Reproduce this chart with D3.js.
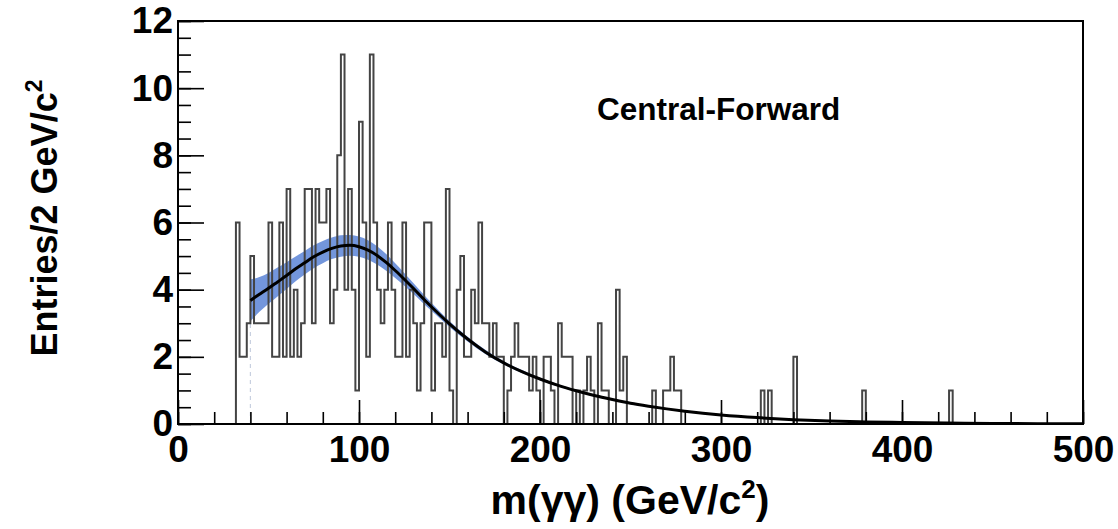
<!DOCTYPE html>
<html><head><meta charset="utf-8">
<script src="https://cdn.jsdelivr.net/npm/d3@7"></script>
<style>
body{margin:0;background:#fff}
svg{display:block}
text{font-family:"Liberation Sans",Arial,Helvetica,sans-serif;font-weight:bold;fill:#000}
</style>
</head><body><svg id="c" width="1118" height="529"></svg>
<script>
// ---------------- data ----------------
const binWidth = 2; // GeV/c^2 per bin, bins from 0 to 500
const counts = [
  0,0,0,0,0,0,0,0,0,0,      // 0-18
  0,0,0,0,0,0,6,2,2,3,      // 20-38
  5,3,3,3,3,6,2,2,6,2,      // 40-58
  7,2,4,2,3,7,7,3,7,6,      // 60-78
  6,7,3,4,8,11,4,7,4,1,     // 80-98
  9,6,2,11,6,4,3,4,6,4,     // 100-118
  2,2,6,2,4,3,1,3,6,6,      // 120-138
  1,3,3,2,7,1,0,4,5,2,      // 140-158
  2,4,3,6,3,3,2,3,2,2,      // 160-178
  0,1,2,3,2,2,2,1,2,1,      // 180-198
  0,2,2,1,0,3,2,2,2,0,      // 200-218
  1,0,1,2,1,0,3,1,1,0,      // 220-238
  0,4,1,2,0,0,0,0,0,0,      // 240-258
  0,1,0,0,1,1,2,1,1,0,      // 260-278
  0,0,0,0,0,0,0,0,0,0,      // 280-298
  0,0,0,0,0,0,0,0,0,0,      // 300-318
  0,1,0,1,0,0,0,0,0,0,      // 320-338
  2,0,0,0,0,0,0,0,0,0,      // 340-358
  0,0,0,0,0,0,0,0,0,1,      // 360-378
  0,0,0,0,0,0,0,0,0,0,      // 380-398
  0,0,0,0,0,0,0,0,0,0,      // 400-418
  0,0,0,1,0,0,0,0,0,0,      // 420-438
  0,0,0,0,0,0,0,0,0,0,      // 440-458
  0,0,0,0,0,0,0,0,0,0,      // 460-478
  0,0,0,0,0,0,0,0,0,0       // 480-498
];
const fitMass     = [40,45,50,55,60,65,70,75,80,85,90,95,100,105,110,115,120,125,130,135,140,145,150,160,170,180,190,200,210,220,230,240,250,260,270,280,290,300,320,340,360,380,400,425,450,475,500];
const fitValue    = [3.68,3.86,4.04,4.23,4.42,4.62,4.8,4.98,5.12,5.23,5.3,5.32,5.28,5.18,5.02,4.81,4.57,4.31,4.04,3.76,3.49,3.23,2.98,2.53,2.14,1.82,1.56,1.34,1.15,0.99,0.85,0.73,0.62,0.53,0.45,0.38,0.32,0.27,0.19,0.13,0.09,0.063,0.044,0.028,0.018,0.011,0.007];
const fitBandHalf = [0.62,0.52,0.46,0.43,0.4,0.37,0.35,0.34,0.33,0.32,0.32,0.31,0.3,0.29,0.27,0.25,0.22,0.19,0.16,0.14,0.12,0.1,0.09,0.07,0.06,0.05,0.045,0.04,0.035,0.03,0.03,0.03,0.03,0.02,0.02,0.02,0.02,0.02,0.015,0.01,0.01,0.01,0.01,0.005,0.005,0.005,0.005];
const fitStart = 40;
const xMajorTicks = [0,100,200,300,400,500];
const yMajorTicks = [0,2,4,6,8,10,12];
const xLabelMain = "m(γγ) (GeV/c";
const yLabelMain = "Entries/2 GeV/c";
const regionLabel = "Central-Forward";

// ---------------- layout ----------------
const svg = d3.select("#c");
const L = 178, R = 1083, T = 21, B = 424;
const x = d3.scaleLinear().domain([0,500]).range([L,R]);
const y = d3.scaleLinear().domain([0,12]).range([B,T]);

svg.append("rect").attr("width",1118).attr("height",529).attr("fill","#fff");
svg.append("defs").append("clipPath").attr("id","clip")
  .append("rect").attr("x",L).attr("y",T).attr("width",R-L).attr("height",B-T);

const plot = svg.append("g").attr("clip-path","url(#clip)");

// fit band
const fitPts = fitMass.map((m,i)=>({m, v:fitValue[i], h:fitBandHalf[i]}));
plot.append("path").datum(fitPts)
  .attr("d", d3.area().x(d=>x(d.m)).y0(d=>y(d.v-d.h)).y1(d=>y(d.v+d.h)).curve(d3.curveMonotoneX))
  .attr("fill","#5b84d6").attr("fill-opacity",0.85);

// dashed fit-start marker
plot.append("line").attr("x1",x(fitStart)).attr("x2",x(fitStart))
  .attr("y1",y(0)).attr("y2",y(3))
  .attr("stroke","#c8d0e0").attr("stroke-width",1.2).attr("stroke-dasharray","4,4");

// histogram
const histPts = counts.map((c,i)=>[i*binWidth, c]);
histPts.push([counts.length*binWidth, counts[counts.length-1]]);
plot.append("path").datum(histPts)
  .attr("d", d3.line().x(d=>x(d[0])).y(d=>y(d[1])).curve(d3.curveStepAfter))
  .attr("fill","none").attr("stroke","#444").attr("stroke-width",2);

// fit curve
plot.append("path").datum(fitPts)
  .attr("d", d3.line().x(d=>x(d.m)).y(d=>y(d.v)).curve(d3.curveMonotoneX))
  .attr("fill","none").attr("stroke","#000").attr("stroke-width",3);

// ---------------- axes ----------------
const fontSize = 37;
// y minor
svg.append("g").attr("transform",`translate(${L},0)`)
  .call(d3.axisLeft(y).tickValues(d3.range(0,12.01,0.5)).tickSizeInner(-13).tickSizeOuter(0).tickFormat(""))
  .call(g=>g.select(".domain").remove())
  .call(g=>g.selectAll("line").attr("stroke","#000").attr("stroke-width",1.6));
// y major
svg.append("g").attr("transform",`translate(${L},0)`)
  .call(d3.axisLeft(y).tickValues(yMajorTicks).tickSizeInner(-26).tickSizeOuter(0).tickPadding(5).tickFormat(d3.format("d")))
  .call(g=>g.select(".domain").remove())
  .call(g=>g.selectAll("line").attr("stroke","#000").attr("stroke-width",1.6))
  .call(g=>g.selectAll("text").style("font-size",fontSize+"px").style("font-weight","bold")
        .attr("font-family","Liberation Sans, Arial, sans-serif"));
// x minor
svg.append("g").attr("transform",`translate(0,${B})`)
  .call(d3.axisBottom(x).tickValues(d3.range(0,501,20)).tickSizeInner(-12).tickSizeOuter(0).tickFormat(""))
  .call(g=>g.select(".domain").remove())
  .call(g=>g.selectAll("line").attr("stroke","#000").attr("stroke-width",1.6));
// x major
svg.append("g").attr("transform",`translate(0,${B})`)
  .call(d3.axisBottom(x).tickValues(xMajorTicks).tickSizeInner(-24).tickSizeOuter(0).tickPadding(12).tickFormat(d3.format("d")))
  .call(g=>g.select(".domain").remove())
  .call(g=>g.selectAll("line").attr("stroke","#000").attr("stroke-width",1.6))
  .call(g=>g.selectAll("text").style("font-size",fontSize+"px").style("font-weight","bold")
        .attr("font-family","Liberation Sans, Arial, sans-serif"));

// frame
svg.append("rect").attr("x",L).attr("y",T).attr("width",R-L).attr("height",B-T)
  .attr("fill","none").attr("stroke","#000").attr("stroke-width",2);

// ---------------- labels ----------------
const xl = svg.append("text").attr("x",630).attr("y",514).attr("text-anchor","middle").style("font-size","41px");
xl.append("tspan").text(xLabelMain);
xl.append("tspan").attr("dy",-16).style("font-size","26px").text("2");
xl.append("tspan").attr("dy",16).text(")");

const yl = svg.append("text").attr("transform","translate(57,218) rotate(-90)").attr("text-anchor","middle").style("font-size","36px");
yl.append("tspan").text(yLabelMain);
yl.append("tspan").attr("dy",-15).style("font-size","23px").text("2");

svg.append("text").attr("x",597).attr("y",120).style("font-size","31.5px").text(regionLabel);
</script>
</body></html>
